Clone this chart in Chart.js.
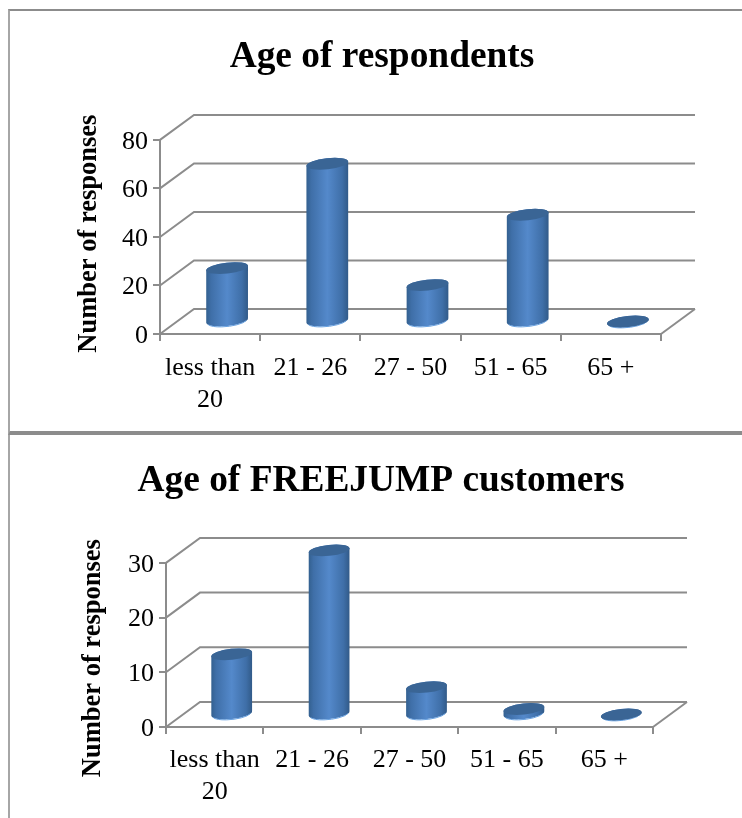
<!DOCTYPE html>
<html>
<head>
<meta charset="utf-8">
<title>Age of respondents</title>
<script src="https://cdn.jsdelivr.net/npm/chart.js@4/dist/chart.umd.min.js"></script>
<style>
  html, body { margin: 0; padding: 0; background: #fff; overflow: hidden; }
  #page { position: relative; width: 742px; height: 818px; }
  .frame { position: absolute; border: 0 solid #8c8c8c; border-left-color: #a6a6a6; }
  canvas { position: absolute; left: 0; }
</style>
</head>
<body>
<div id="page">
  <div class="frame" style="left:8px;top:9px;width:734px;height:420px;border-width:2px 0 4px 2px"></div>
  <div class="frame" style="left:8px;top:435px;width:0;height:383px;border-left-width:2px"></div>
  <canvas id="respondentsChart" style="top:0" width="742" height="432"></canvas>
  <canvas id="customersChart" style="top:432px" width="742" height="386"></canvas>
</div>
<script>
// Chart values
const ageGroups = [["less than", "20"], "21 - 26", "27 - 50", "51 - 65", "65 +"];
const respondents = [22, 65, 15, 44, 0];
const customers = [11, 30, 5, 1, 0];

const lineGray = "#8c8c8c";
const serif = "'Liberation Serif', 'Times New Roman', serif";

// Draws the back wall, floor edges and slanted grid lines behind the bars,
// then turns each bar into a cylinder standing halfway into the floor
const cylinder3d = {
    id: "cylinder3d",
    afterLayout(chart, args, opts) {
        // the title sits centred over the page, not over the padded box
        chart.titleBlock.left += opts.titleShift;
        chart.titleBlock.right += opts.titleShift;
    },
    beforeDatasetsDraw(chart, args, opts) {
        const { ctx, scales } = chart;
        const { x: xScale, y: yScale } = scales;
        ctx.save();
        ctx.strokeStyle = lineGray;
        ctx.lineWidth = 2;
        yScale.ticks.forEach(tick => {
            const y = yScale.getPixelForValue(tick.value);
            ctx.beginPath();
            ctx.moveTo(xScale.left, y);
            ctx.lineTo(xScale.left + opts.depthX, y - opts.depthY);
            ctx.lineTo(xScale.right + opts.depthX, y - opts.depthY);
            ctx.stroke();
        });
        // right edge of the floor
        const y0 = yScale.getPixelForValue(0);
        ctx.beginPath();
        ctx.moveTo(xScale.right, y0);
        ctx.lineTo(xScale.right + opts.depthX, y0 - opts.depthY);
        ctx.stroke();
        ctx.restore();
    },
    afterDatasetsDraw(chart, args, opts) {
        const { ctx } = chart;
        chart.getDatasetMeta(0).data.forEach(bar => {
            const cx = bar.x + opts.depthX / 2;
            const base = bar.base - opts.depthY / 2;
            const top = bar.y - opts.depthY / 2;
            const rot = opts.tilt;

            const side = ctx.createLinearGradient(cx - opts.rx, 0, cx + opts.rx, 0);
            side.addColorStop(0, "#33608f");
            side.addColorStop(0.12, "#3f6fa8");
            side.addColorStop(0.5, "#5489cb");
            side.addColorStop(0.85, "#3f6fa8");
            side.addColorStop(1, "#315a88");

            ctx.save();
            ctx.beginPath();
            ctx.ellipse(cx, base, opts.rx, opts.ry, rot, 0, Math.PI);
            ctx.ellipse(cx, top, opts.rx, opts.ry, rot, Math.PI, Math.PI * 2);
            ctx.closePath();
            ctx.fillStyle = side;
            ctx.fill();

            // thin light rim along the foot
            ctx.beginPath();
            ctx.ellipse(cx, base + 0.5, opts.rx - 1, opts.ry, rot, 0.3, Math.PI - 0.3);
            ctx.strokeStyle = "#6aa2e0";
            ctx.lineWidth = 1;
            ctx.stroke();

            ctx.beginPath();
            ctx.ellipse(cx, top, opts.rx, opts.ry, rot, 0, Math.PI * 2);
            ctx.fillStyle = "#3a6595";
            ctx.fill();
            ctx.restore();
        });
    }
};

function makeChart(id, title, values, cfg) {
    const ctx = document.getElementById(id).getContext("2d");
    return new Chart(ctx, {
        type: "bar",
        data: {
            labels: ageGroups,
            datasets: [{
                label: title,
                data: values,
                backgroundColor: "rgba(0,0,0,0)",
                borderWidth: 0
            }]
        },
        plugins: [cylinder3d],
        options: {
            responsive: false,
            animation: false,
            layout: { padding: cfg.padding },
            plugins: {
                legend: { display: false },
                tooltip: { enabled: false },
                title: {
                    display: true,
                    text: title,
                    color: "#000",
                    font: { family: serif, size: 37.4, weight: "bold", lineHeight: 1.2 },
                    padding: cfg.titlePadding
                },
                cylinder3d: { depthX: 34, depthY: 25, rx: cfg.rx, ry: 5.5, tilt: -0.11, titleShift: cfg.titleShift }
            },
            scales: {
                x: {
                    afterFit(scale) { scale.height = 84; },
                    grid: { drawOnChartArea: false, tickLength: 7, color: lineGray, lineWidth: 2 },
                    border: { color: lineGray, width: 2 },
                    ticks: {
                        autoSkip: false,
                        maxRotation: 0,
                        padding: cfg.labelGap,
                        color: "#000",
                        font: { family: serif, size: 26, lineHeight: 1.2 }
                    }
                },
                y: {
                    min: 0,
                    max: cfg.max,
                    afterFit(scale) { scale.width = cfg.axisWidth; },
                    title: {
                        display: true,
                        text: cfg.axisTitle,
                        color: "#000",
                        padding: 0,
                        font: { family: serif, size: 26.5, weight: "bold", lineHeight: 1.2 }
                    },
                    grid: { drawOnChartArea: false, tickLength: 7, color: lineGray, lineWidth: 2 },
                    border: { color: lineGray, width: 2 },
                    ticks: {
                        stepSize: cfg.step,
                        padding: 5,
                        labelOffset: 2,
                        color: "#000",
                        font: { family: serif, size: 26 }
                    }
                }
            }
        }
    });
}

makeChart("respondentsChart", "Age of respondents", respondents, {
    max: 80, step: 20, rx: 21, axisWidth: 87, labelGap: 12, titleShift: 15,
    axisTitle: " Number of responses",
    padding: { left: 73, right: 81, top: 0, bottom: 14 },
    titlePadding: { top: 35, bottom: 60 }
});

makeChart("customersChart", "Age of FREEJUMP customers", customers, {
    max: 30, step: 10, rx: 20.5, axisWidth: 89, labelGap: 11, titleShift: 16,
    axisTitle: "Number of responses    ",
    padding: { left: 77, right: 89, top: 0, bottom: 7 },
    titlePadding: { top: 27, bottom: 59 }
});
</script>
</body>
</html>
